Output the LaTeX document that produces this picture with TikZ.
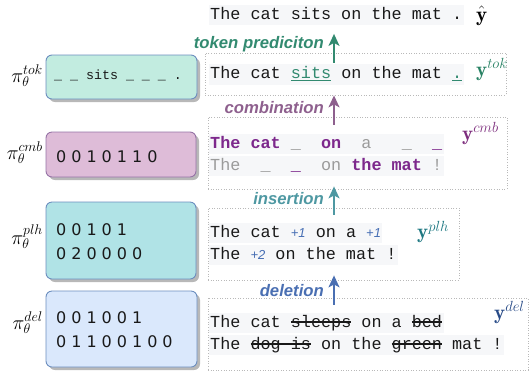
\documentclass[tikz,border=0pt]{standalone}
\usepackage{fix-cm}
\usepackage{fontspec}
\usetikzlibrary{arrows.meta,shadows}
\newfontfamily\monof{Liberation Mono}
\newfontfamily\sansf{Liberation Sans}
\newfontfamily\digf{DejaVu Sans}
\frenchspacing
\definecolor{tokc}{RGB}{50,138,112}
\definecolor{tokl}{RGB}{40,130,100}
\definecolor{cmbc}{RGB}{142,96,142}
\definecolor{cmbl}{RGB}{125,45,125}
\definecolor{plhc}{RGB}{78,152,162}
\definecolor{plhl}{RGB}{30,120,130}
\definecolor{delc}{RGB}{74,111,178}
\definecolor{dell}{RGB}{40,75,135}
\definecolor{cmbtxt}{RGB}{125,40,140}
\definecolor{graytxt}{RGB}{155,155,155}
\definecolor{plusc}{RGB}{70,110,180}
\definecolor{codebg}{RGB}{246,247,249}
\definecolor{dotc}{RGB}{185,185,185}
\definecolor{tokfill}{RGB}{194,236,224}
\definecolor{cmbfill}{RGB}{222,188,216}
\definecolor{cmbbd}{RGB}{150,115,166}
\definecolor{plhfill}{RGB}{176,227,230}
\definecolor{delfill}{RGB}{218,232,252}
\definecolor{bluebd}{RGB}{108,142,191}
\definecolor{txt}{RGB}{25,25,25}
\newsavebox{\wordbox}
\newcommand{\dsp}{\hspace{5pt}}
\newcommand{\strk}[1]{\sbox{\wordbox}{#1}\rlap{{\rule[4.8pt]{\wd\wordbox}{1.4pt}}}\usebox{\wordbox}}
\newcommand{\ulg}[1]{\sbox{\wordbox}{{\color{tokc}#1}}\rlap{{\color{tokc}\rule[-2.8pt]{\wd\wordbox}{1.3pt}}}\usebox{\wordbox}}
\newcommand{\plusf}[1]{{\sansf\itshape\fontsize{13}{16}\selectfont\color{plusc}#1}}
\newcommand{\pur}[1]{{\bfseries\color{cmbtxt}#1}}
\newcommand{\gry}[1]{{\color{graytxt}#1}}
\begin{document}
\begin{tikzpicture}[x=1pt,y=-1pt,
  pbox/.style={rounded corners=6pt, line width=0.9pt, inner sep=0pt,
    drop shadow={shadow xshift=3pt,shadow yshift=-3pt,fill=black,opacity=0.28}},
  rbox/.style={draw=dotc, line width=0.8pt, dash pattern=on 1pt off 1.6pt, inner sep=0pt},
  codeline/.style={anchor=base west, fill=codebg, inner xsep=1.5pt, inner ysep=0pt,
    text height=14.5pt, text depth=6pt, text=txt, font=\monof\fontsize{16.8}{20}\selectfont},
  digtext/.style={anchor=base west, inner sep=0pt, text=txt, font=\digf\fontsize{16}{20}\selectfont},
  pilab/.style={anchor=east, inner sep=0pt, font=\fontsize{20}{24}\selectfont},
  ylab/.style={anchor=base west, inner sep=0pt, font=\fontsize{21}{25}\selectfont},
  alab/.style={anchor=base east, inner sep=0pt, font=\sansf\bfseries\itshape\fontsize{16.7}{20}\selectfont},
  arr/.style={line width=1.5pt, -{Stealth[length=12pt,width=11pt,inset=3pt]}}]
\useasboundingbox (0,0) rectangle (529,376);

% left boxes
\node[pbox, fill=tokfill, draw=bluebd, minimum width=151pt, minimum height=44pt] (ptok) at (121.5,77) {};
\node[pbox, fill=cmbfill, draw=cmbbd, minimum width=150pt, minimum height=45pt] (pcmb) at (121,154.5) {};
\node[pbox, fill=plhfill, draw=bluebd, minimum width=150pt, minimum height=77pt] (pplh) at (121,240.5) {};
\node[pbox, fill=delfill, draw=bluebd, minimum width=151pt, minimum height=76pt] (pdel) at (121.5,329) {};

\node[anchor=base west, inner sep=0pt, text=txt, font=\monof\fontsize{13.3}{16}\selectfont] (ttok) at (54,79.5) {\_ \_ sits \_ \_ \_ .};
\node[digtext] (tcmb) at (56,162) {0\dsp0\dsp1\dsp0\dsp1\dsp1\dsp0};
\node[digtext] (tplha) at (56,235) {0\dsp0\dsp1\dsp0\dsp1};
\node[digtext] (tplhb) at (56,259.3) {0\dsp2\dsp0\dsp0\dsp0\dsp0};
\node[digtext] (tdela) at (56,323.3) {0\dsp0\dsp1\dsp0\dsp0\dsp1};
\node[digtext] (tdelb) at (56,347.3) {0\dsp1\dsp1\dsp0\dsp0\dsp1\dsp0\dsp0};

\node[pilab] (ltok) at (43,76) {$\pi_\theta^{tok}$};
\node[pilab] (lcmb) at (43,153) {$\pi_\theta^{cmb}$};
\node[pilab] (lplh) at (43,237) {$\pi_\theta^{plh}$};
\node[pilab] (ldel) at (43,323) {$\pi_\theta^{del}$};

% right boxes
\node[rbox, minimum width=301pt, minimum height=42pt] (rtok) at (355.5,74) {};
\node[rbox, minimum width=299pt, minimum height=72pt] (rcmb) at (357.5,153) {};
\node[rbox, minimum width=251pt, minimum height=72pt] (rplh) at (333.5,244) {};
\node[rbox, minimum width=320pt, minimum height=72pt] (rdel) at (368,334) {};

\node[codeline] (top) at (208.5,19) {The cat sits on the mat .};
\node[codeline] (ctok) at (208.5,78.5) {The cat \ulg{sits} on the mat \ulg{.}};
\node[codeline] (ccmba) at (208.5,148.3) {\pur{The cat}~\gry{\_}~~\pur{on}~~\gry{a}~~~\gry{\_}~~\pur{\_}};
\node[codeline] (ccmbb) at (208.5,170) {\gry{The}~~\gry{\_}~~\pur{\_}~~\gry{on}~\pur{the mat}~\gry{!}};
\node[codeline] (cplha) at (208.5,237.3) {The cat \plusf{+1} on a \plusf{+1}};
\node[codeline] (cplhb) at (208.5,259.3) {The \plusf{+2} on the mat !};
\node[codeline] (cdela) at (208.5,327.3) {The cat \strk{sleeps} on a \strk{bed}};
\node[codeline] (cdelb) at (208.5,349.3) {The \strk{dog is} on the \strk{green} mat !};

\node[ylab] (yhat) at (476,21) {$\hat{\mathbf{y}}$};
\node[ylab, text=tokl] (ytok) at (476,76.5) {$\mathbf{y}^{tok}$};
\node[ylab, text=cmbl] (ycmb) at (462,140) {$\mathbf{y}^{cmb}$};
\node[ylab, text=plhl] (yplh) at (417,238.7) {$\mathbf{y}^{plh}$};
\node[ylab, text=dell] (ydel) at (494,319) {$\mathbf{y}^{del}$};

% arrows
\coordinate (ax) at (334,0);
\draw[arr, tokc] ([yshift=-10pt]rtok.north -| ax) -- ([yshift=-8.7pt]top.south -| ax);
\draw[arr, cmbc] ([yshift=-8pt]rcmb.north -| ax) -- (rtok.south -| ax);
\draw[arr, plhc] ([yshift=-7pt]rplh.north -| ax) -- ([yshift=3pt]rcmb.south -| ax);
\draw[arr, delc] ([yshift=-7pt]rdel.north -| ax) -- ([yshift=5pt]rplh.south -| ax);

\node[alab, text=tokc] (atok) at (324,48) {token prediciton};
\node[alab, text=cmbc] (acmb) at (324,113) {combination};
\node[alab, text=plhc] (aplh) at (324,204) {insertion};
\node[alab, text=delc] (adel) at (324,296) {deletion};
\end{tikzpicture}
\end{document}
